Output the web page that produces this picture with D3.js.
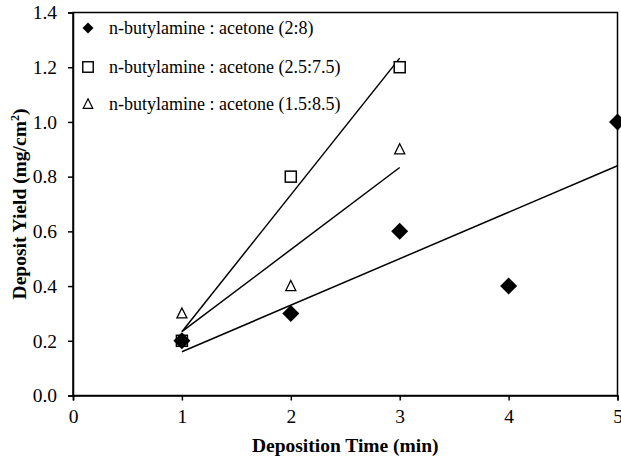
<!DOCTYPE html>
<html>
<head>
<meta charset="utf-8">
<script src="https://cdnjs.cloudflare.com/ajax/libs/d3/7.8.5/d3.min.js"></script>
<style>
  body { margin: 0; background: #fff; }
</style>
</head>
<body>
<svg id="chart" width="621" height="460"></svg>
<script>
/* data */
const seriesNames = [
  "n-butylamine : acetone (2:8)",
  "n-butylamine : acetone (2.5:7.5)",
  "n-butylamine : acetone (1.5:8.5)"
];
const timeDiamond = [1, 2, 3, 4, 5];
const yieldDiamond = [0.2, 0.3, 0.6, 0.4, 1.0];
const timeSquare = [1, 2, 3];
const yieldSquare = [0.2, 0.8, 1.2];
const timeTriangle = [1, 2, 3];
const yieldTriangle = [0.3, 0.4, 0.9];
const xTicks = [0, 1, 2, 3, 4, 5];
const yTicks = [0.0, 0.2, 0.4, 0.6, 0.8, 1.0, 1.2, 1.4];

const series = [
  { name: seriesNames[0], x: timeDiamond, y: yieldDiamond, shape: "diamond" },
  { name: seriesNames[1], x: timeSquare, y: yieldSquare, shape: "square" },
  { name: seriesNames[2], x: timeTriangle, y: yieldTriangle, shape: "triangle" }
];

const FONT = "'Liberation Serif', 'Times New Roman', Times, serif";
const margin = {left: 73, top: 12.5, right: 3.5, bottom: 64.5};
const W = 621, H = 460;
const width = W - margin.left - margin.right;
const height = H - margin.top - margin.bottom;

const svg = d3.select("#chart");
const chart = svg.append("g").attr("transform", `translate(${margin.left},${margin.top})`);

const xScale = d3.scaleLinear().domain([0, 5]).range([0, width]);
const yScale = d3.scaleLinear().domain([0, 1.4]).range([height, 0]);

/* frame */
chart.append("rect")
  .attr("x", 0).attr("y", 0)
  .attr("width", width).attr("height", height)
  .attr("fill", "none").attr("stroke", "#000").attr("stroke-width", 1.5);

/* axes */
const xAxis = chart.append("g")
  .attr("transform", `translate(0,${height})`)
  .call(d3.axisBottom(xScale).tickValues(xTicks).tickFormat(d3.format("d")).tickSize(5).tickPadding(9));
const yAxis = chart.append("g")
  .call(d3.axisLeft(yScale).tickValues(yTicks).tickFormat(d3.format(".1f")).tickSize(5).tickPadding(11));
[xAxis, yAxis].forEach(a => {
  a.attr("font-family", FONT).attr("font-size", 19.5);
  a.select(".domain").attr("stroke-width", 1.5);
  a.selectAll(".tick line").attr("stroke-width", 1.5);
  a.selectAll(".tick text").attr("fill", "#000");
});

/* least-squares trend lines */
function fit(xs, ys) {
  const n = xs.length;
  const mx = d3.mean(xs), my = d3.mean(ys);
  let sxy = 0, sxx = 0;
  for (let i = 0; i < n; i++) { sxy += (xs[i] - mx) * (ys[i] - my); sxx += (xs[i] - mx) ** 2; }
  const b = sxy / sxx;
  return {b: b, a: my - b * mx, x0: d3.min(xs), x1: d3.max(xs)};
}
series.forEach(s => {
  const f = fit(s.x, s.y);
  chart.append("line")
    .attr("x1", xScale(f.x0)).attr("y1", yScale(f.a + f.b * f.x0))
    .attr("x2", xScale(f.x1)).attr("y2", yScale(f.a + f.b * f.x1))
    .attr("stroke", "#000").attr("stroke-width", 1.5);
});

/* markers */
function marker(g, shape) {
  if (shape === "diamond") {
    g.append("path").attr("d", "M0,-8.5L8.5,0L0,8.5L-8.5,0Z").attr("fill", "#000");
  } else if (shape === "square") {
    g.append("rect").attr("x", -5.5).attr("y", -5.5).attr("width", 11).attr("height", 11)
      .attr("fill", "#fff").attr("stroke", "#000").attr("stroke-width", 1.5);
  } else {
    g.append("path").attr("d", "M0,-5.5L5,4.5L-5,4.5Z")
      .attr("fill", "#fff").attr("stroke", "#000").attr("stroke-width", 1.3);
  }
}
/* draw order: triangle, square, diamond on top */
[series[2], series[1], series[0]].forEach(s => {
  s.x.forEach((xv, i) => {
    const g = chart.append("g").attr("transform", `translate(${xScale(xv)},${yScale(s.y[i])})`);
    marker(g, s.shape);
  });
});

/* legend */
const legend = chart.append("g").attr("font-family", FONT).attr("font-size", 18);
const legendY = [15.5, 54.5, 91.5];
series.forEach((s, i) => {
  const g = legend.append("g").attr("transform", `translate(15,${legendY[i]})`);
  const m = g.append("g").attr("transform", s.shape === "diamond" ? "scale(0.65)" : "scale(0.95)");
  marker(m, s.shape);
  g.append("text").attr("x", 21).attr("y", 6).text(s.name);
});

/* axis titles */
svg.append("text")
  .attr("font-family", FONT).attr("font-size", 19.5).attr("font-weight", "bold")
  .attr("x", margin.left + width / 2)
  .attr("y", 452)
  .attr("text-anchor", "middle")
  .text("Deposition Time (min)");

const yt = svg.append("text")
  .attr("font-family", FONT).attr("font-size", 19.5).attr("font-weight", "bold")
  .attr("transform", `translate(26,${margin.top + height / 2}) rotate(-90)`)
  .attr("text-anchor", "middle");
yt.append("tspan").text("Deposit Yield (mg/cm");
yt.append("tspan").attr("dy", -7).attr("font-size", 12).text("2");
yt.append("tspan").attr("dy", 7).text(")");
</script>
</body>
</html>
